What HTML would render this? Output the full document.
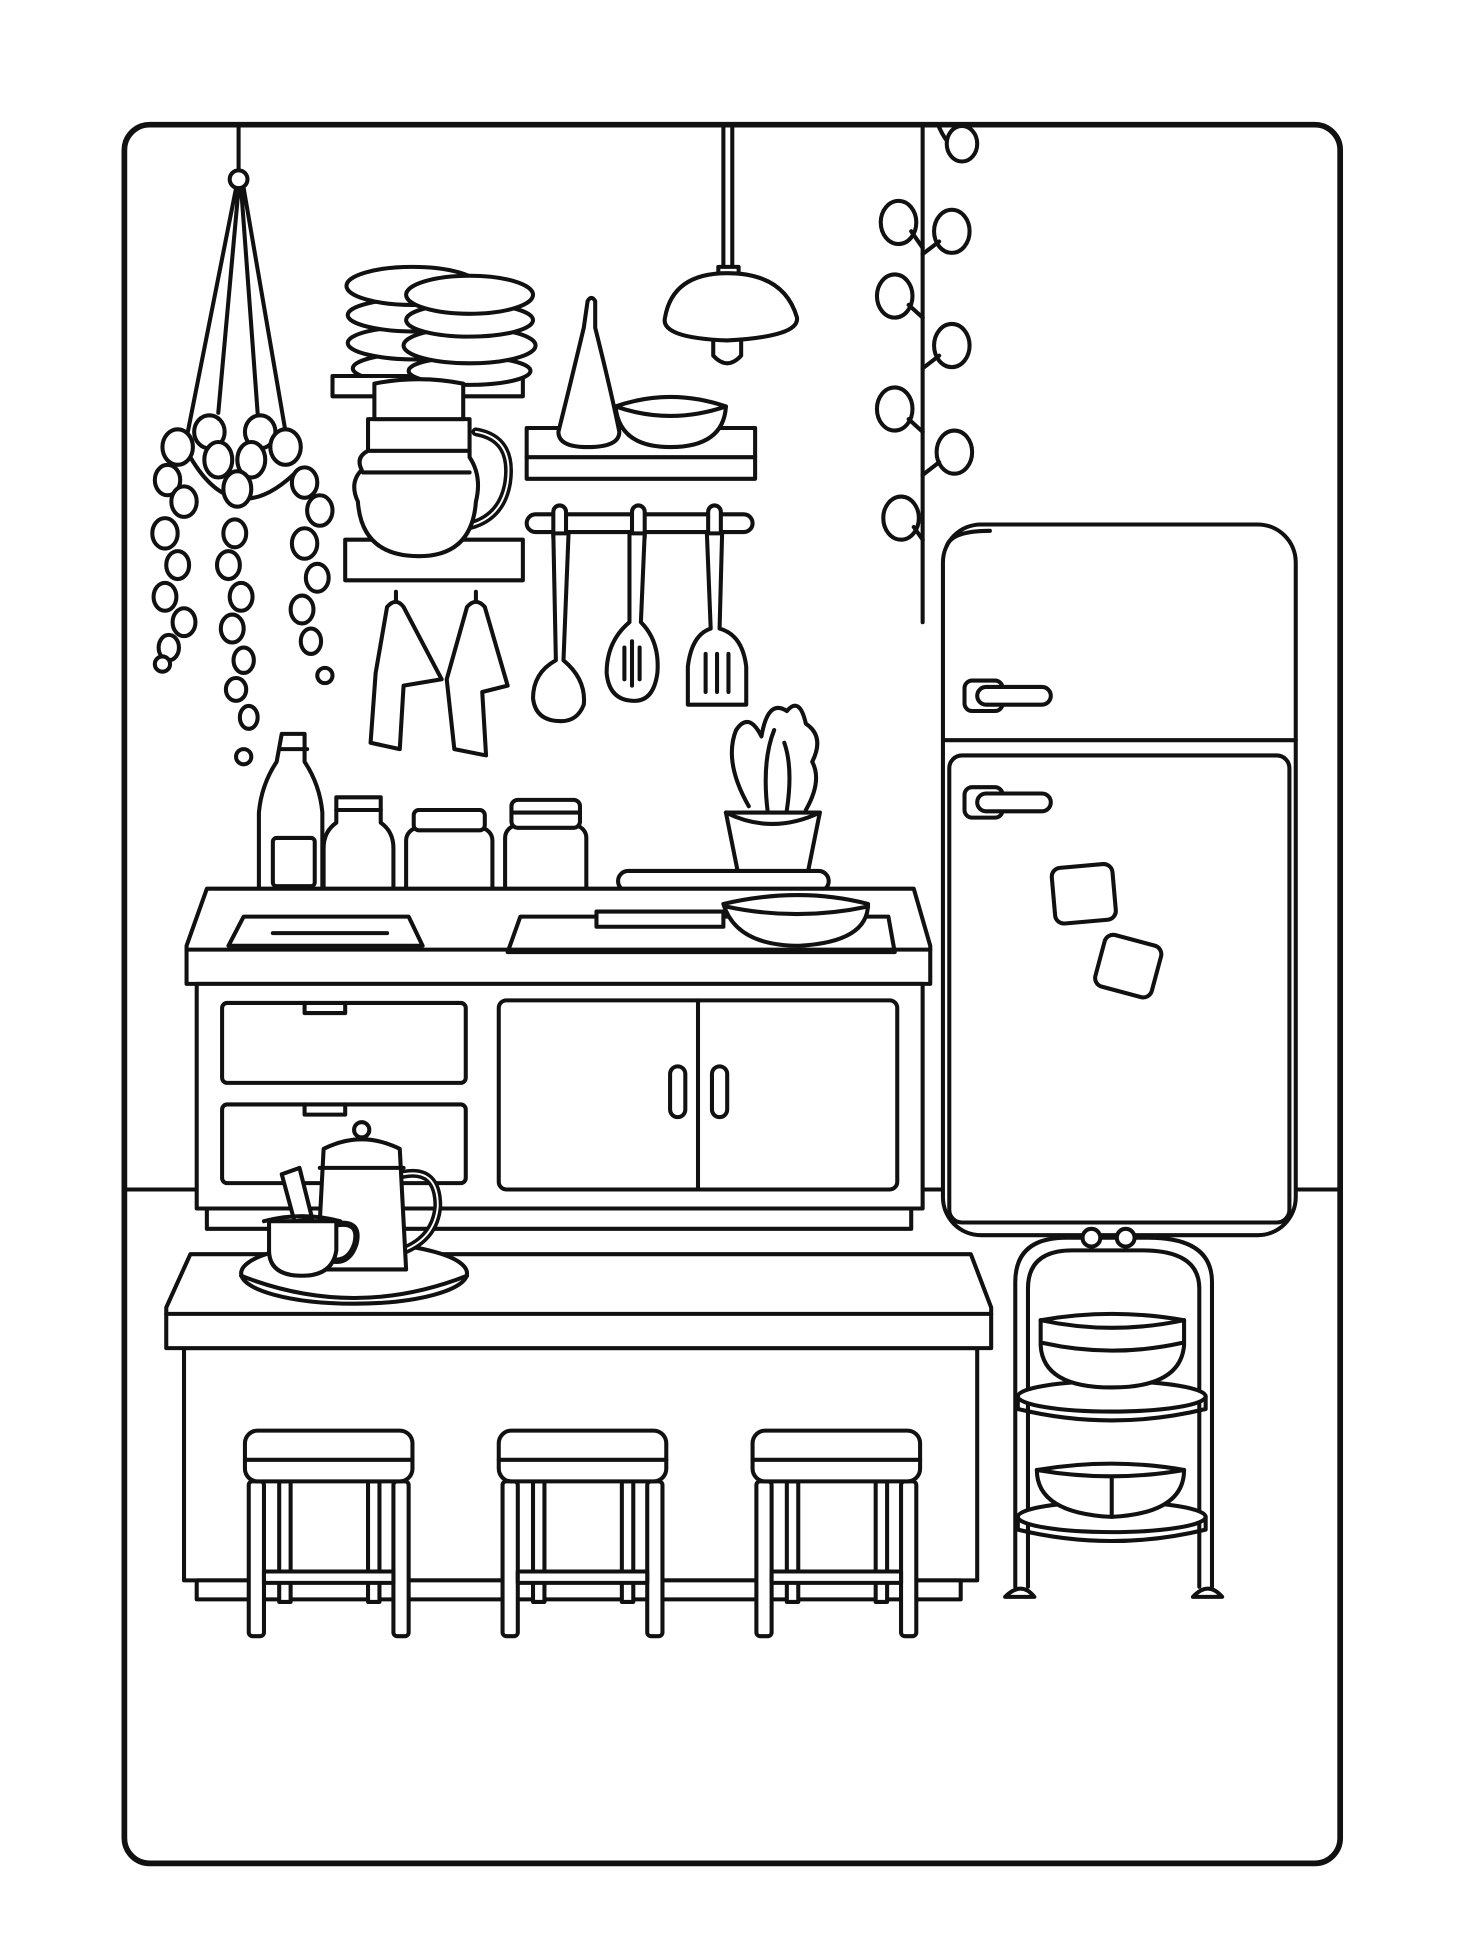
<!DOCTYPE html>
<html><head><meta charset="utf-8"><style>
html,body{margin:0;padding:0;background:#fff;}
svg{display:block;}
</style></head><body>
<svg width="1462" height="1950" viewBox="0 0 1152 1536" xmlns="http://www.w3.org/2000/svg" fill="none" stroke="#111" stroke-width="3.2" stroke-linejoin="round" stroke-linecap="round">
<rect x="98" y="98" width="958" height="1370" rx="20" stroke-width="4.5"/>
<path d="M100 937H155M720 937H745M1020 937H1054"/>
<path d="M188 100V133"/><circle cx="188" cy="141" r="7"/>
<path d="M186 148L148 340M188 148L172 325M190 148L203 325M192 148L225 340"/>
<path d="M150 360Q185 420 235 370"/>
<g fill="#fff">
<ellipse cx="140" cy="352" rx="12" ry="14"/><ellipse cx="165" cy="340" rx="12" ry="13"/><ellipse cx="172" cy="362" rx="11" ry="14"/><ellipse cx="205" cy="340" rx="12" ry="13"/><ellipse cx="198" cy="362" rx="11" ry="14"/><ellipse cx="225" cy="352" rx="12" ry="14"/><ellipse cx="187" cy="385" rx="11" ry="14"/>
<ellipse cx="132" cy="378" rx="10" ry="12"/><ellipse cx="145" cy="395" rx="10" ry="12"/><ellipse cx="130" cy="420" rx="10" ry="12"/><ellipse cx="140" cy="445" rx="9" ry="11"/><ellipse cx="130" cy="470" rx="9" ry="11"/><ellipse cx="145" cy="490" rx="9" ry="11"/><ellipse cx="133" cy="510" rx="8" ry="10"/><circle cx="128" cy="523" r="6"/>
<ellipse cx="240" cy="380" rx="10" ry="12"/><ellipse cx="252" cy="402" rx="10" ry="12"/><ellipse cx="240" cy="428" rx="10" ry="12"/><ellipse cx="250" cy="455" rx="9" ry="11"/><ellipse cx="238" cy="480" rx="9" ry="11"/><ellipse cx="245" cy="505" rx="8" ry="10"/><circle cx="256" cy="532" r="6"/>
<ellipse cx="185" cy="420" rx="9" ry="11"/><ellipse cx="180" cy="445" rx="9" ry="11"/><ellipse cx="190" cy="470" rx="9" ry="11"/><ellipse cx="183" cy="495" rx="9" ry="11"/><ellipse cx="192" cy="520" rx="8" ry="10"/><ellipse cx="186" cy="543" rx="8" ry="9"/><ellipse cx="196" cy="565" rx="7" ry="9"/><circle cx="192" cy="596" r="6"/>
</g>
<g fill="#fff">
<ellipse cx="330" cy="290" rx="52" ry="12"/><ellipse cx="328" cy="270" rx="54" ry="13"/><ellipse cx="328" cy="248" rx="54" ry="13"/><ellipse cx="325" cy="225" rx="52" ry="15"/>
<rect x="262" y="296" width="150" height="16"/>
<ellipse cx="370" cy="292" rx="48" ry="11"/><ellipse cx="370" cy="272" rx="52" ry="14"/><ellipse cx="370" cy="252" rx="50" ry="13"/><ellipse cx="370" cy="232" rx="50" ry="15"/>
</g>
<rect x="272" y="425" width="140" height="32" fill="#fff"/>
<path d="M375 340Q405 345 400 380Q395 410 365 415" stroke-width="7"/>
<path d="M375 340Q405 345 400 380Q395 410 365 415" stroke="#fff" stroke-width="1.5"/>
<path d="M290 330H370V355H290Z" fill="#fff"/>
<path d="M295 302Q330 295 365 302V330H295Z" fill="#fff"/>
<path d="M290 355Q280 360 285 370Q275 380 282 395Q285 438 330 438Q372 438 375 395Q380 375 370 360V355Z" fill="#fff"/>
<path d="M286 372H370"/>
<path d="M312 466v12M375 466v12"/>
<path d="M305 478Q312 470 318 478L348 535L318 540L315 590L292 585L296 530Z" fill="#fff"/>
<path d="M368 478Q375 470 382 478L400 540L380 545L383 595L358 590L352 535Z" fill="#fff"/>
<rect x="415" y="337" width="180" height="40" fill="#fff"/><path d="M415 360H595"/>
<path d="M463 237Q466 232 469 237V258Q482 310 488 340Q488 352 463 352Q440 352 440 340Q450 300 460 258Z" fill="#fff"/>
<path d="M485 320Q528 305 572 320Q570 352 528 352Q488 352 485 320Z" fill="#fff"/><path d="M485 320Q528 335 572 320"/>
<path d="M570 100V210M577 100V210"/>
<path d="M566 210H582V218H566Z" fill="#fff"/>
<path d="M524 250Q530 215 573 215Q618 215 628 250Q630 265 573 268Q520 266 524 250Z" fill="#fff"/>
<path d="M562 268V280Q573 292 584 280V268"/>
<rect x="415" y="405" width="178" height="14" rx="7" fill="#fff"/>
<g fill="#fff">
<rect x="436" y="398" width="10" height="30" rx="5"/><rect x="498" y="398" width="10" height="30" rx="5"/><rect x="558" y="398" width="10" height="30" rx="5"/>
<path d="M436 420H448L444 520Q462 535 460 555Q455 568 442 568Q422 568 420 550Q420 530 438 520Z"/>
<path d="M496 420H508L505 490Q520 505 518 530Q515 552 500 552Q480 552 478 530Q478 505 496 490Z"/>
<path d="M498 505V540M492 510V535M504 510V535"/>
<path d="M557 420H569L567 495Q585 500 588 525V555H542V525Q545 500 560 495Z"/>
<path d="M556 515V545M565 515V545M574 515V545"/>
</g>
<path d="M727 100V490M740 100Q748 118 760 120"/>
<g fill="#fff">
<ellipse cx="708" cy="175" rx="14" ry="17"/><ellipse cx="750" cy="182" rx="14" ry="17"/><ellipse cx="705" cy="233" rx="14" ry="17"/><ellipse cx="750" cy="272" rx="14" ry="17"/><ellipse cx="705" cy="322" rx="14" ry="17"/><ellipse cx="752" cy="356" rx="14" ry="17"/><ellipse cx="710" cy="408" rx="14" ry="17"/><ellipse cx="758" cy="113" rx="12" ry="14"/>
</g>
<path d="M718 182L727 195M740 190L727 200M716 240L727 250M740 280L727 290M716 330L727 340M740 364L727 374M720 415L727 425"/>
<rect x="743" y="413" width="278" height="560" rx="30" fill="#fff"/>
<path d="M746 430Q750 418 780 418"/>
<path d="M743 583H1021"/>
<rect x="748" y="595" width="268" height="368" rx="10"/>
<rect x="760" y="536" width="30" height="24" rx="6" fill="#fff"/><rect x="770" y="541" width="58" height="14" rx="7" fill="#fff"/>
<rect x="760" y="620" width="30" height="24" rx="6" fill="#fff"/><rect x="770" y="625" width="58" height="14" rx="7" fill="#fff"/>
<rect x="830" y="682" width="48" height="44" rx="7" transform="rotate(-5 854 704)"/>
<rect x="866" y="740" width="46" height="42" rx="7" transform="rotate(15 889 761)"/>
<path d="M222 578H240V600Q252 618 254 640V712H204V640Q206 618 218 600Z" fill="#fff"/><rect x="215" y="660" width="33" height="38" rx="3"/><path d="M220 590H242"/>
<path d="M265 628H300V648Q310 655 310 668V712H255V668Q255 655 265 648Z" fill="#fff"/><path d="M265 638H300"/>
<rect x="320" y="652" width="68" height="60" rx="10" fill="#fff"/><rect x="326" y="638" width="56" height="16" rx="4" fill="#fff"/>
<rect x="398" y="650" width="64" height="62" rx="10" fill="#fff"/><rect x="403" y="630" width="54" height="22" rx="5" fill="#fff"/><path d="M403 640H457"/>
<path d="M590 635Q570 600 580 575Q590 560 600 580Q605 550 620 560Q630 548 635 570Q650 580 640 600Q648 615 635 638" fill="#fff"/>
<path d="M605 640Q600 600 610 575M620 638Q625 605 618 585"/>
<path d="M572 640H646L636 690H582Z" fill="#fff"/><path d="M572 640Q608 658 646 640"/>
<rect x="487" y="686" width="166" height="16" rx="8" fill="#fff"/>
<path d="M163 700H720L733 745V775H147V745Z" fill="#fff"/><path d="M147 748H733"/>
<path d="M180 745L192 722H322L333 745Z"/><path d="M215 735H305"/>
<path d="M400 750L410 722H700L705 750Z"/>
<path d="M470 718H570V730H470Z" fill="#fff"/>
<path d="M570 712Q630 698 684 712Q684 742 630 745Q580 745 570 712Z" fill="#fff"/><path d="M572 714Q628 726 684 714"/>
<rect x="155" y="775" width="572" height="177" fill="#fff"/>
<rect x="175" y="790" width="192" height="63" rx="4"/><path d="M240 790v8h32v-8"/>
<rect x="175" y="870" width="192" height="62" rx="4"/><path d="M240 870v8h32v-8"/>
<rect x="393" y="788" width="314" height="149" rx="6"/><path d="M550 788V937"/>
<rect x="528" y="840" width="12" height="40" rx="6"/><rect x="561" y="840" width="12" height="40" rx="6"/>
<rect x="163" y="952" width="555" height="16" fill="#fff"/>
<rect x="145" y="1062" width="625" height="183" fill="#fff"/>
<rect x="155" y="1245" width="602" height="15" fill="#fff"/>
<path d="M150 988H765L781 1030V1062H131V1030Z" fill="#fff"/><path d="M131 1035H781"/>
<ellipse cx="279" cy="1003" rx="89" ry="24" fill="#fff"/><path d="M190 1005Q279 1040 368 1005"/>
<path d="M222 925L236 920L246 960L232 962Z" fill="#fff"/>
<path d="M318 925Q345 920 345 950Q343 975 318 985" stroke-width="7"/><path d="M318 925Q345 920 345 950Q343 975 318 985" stroke="#fff" stroke-width="1.5"/>
<path d="M255 905Q285 890 315 905L320 1000H250Z" fill="#fff"/><path d="M252 920H318"/><circle cx="285" cy="890" r="6" fill="#fff"/>
<path d="M262 965Q285 960 280 980Q275 995 262 993" stroke-width="5"/>
<path d="M212 962H265V985Q262 1005 238 1005Q212 1005 212 985Z" fill="#fff"/><path d="M208 962Q238 954 268 962"/>
<g fill="#fff">
<g id="st">
<rect x="196" y="1167" width="12" height="122" rx="3"/><rect x="310" y="1167" width="12" height="122" rx="3"/>
<rect x="220" y="1167" width="9" height="95"/><rect x="290" y="1167" width="9" height="95"/>
<rect x="208" y="1238" width="102" height="9"/>
<rect x="193" y="1127" width="132" height="40" rx="10"/><path d="M193 1150H325"/>
</g>
<use href="#st" x="200"/><use href="#st" x="400"/>
</g>
<path d="M800 1250V1010Q800 975 840 975H905Q955 975 955 1010V1250M810 1250V1015Q810 985 845 985H900Q945 985 945 1015V1250"/>
<circle cx="860" cy="975" r="7" fill="#fff"/><circle cx="887" cy="975" r="7" fill="#fff"/>
<ellipse cx="876" cy="1100" rx="74" ry="12" fill="#fff"/><path d="M802 1100V1110Q876 1128 950 1110V1100"/>
<ellipse cx="876" cy="1195" rx="74" ry="12" fill="#fff"/><path d="M802 1195V1205Q876 1223 950 1205V1195"/>
<path d="M820 1040Q876 1030 933 1040V1060Q930 1093 876 1093Q822 1093 820 1060Z" fill="#fff"/><path d="M820 1040Q876 1052 933 1040M822 1058Q876 1070 931 1058"/>
<path d="M817 1158Q876 1148 933 1158Q933 1192 876 1195Q817 1192 817 1158Z" fill="#fff"/><path d="M817 1158Q876 1168 933 1158M876 1163V1195"/>
<path d="M792 1258Q805 1245 815 1258Z M940 1258Q952 1245 963 1258Z" fill="#fff"/>
</svg>
</body></html>
